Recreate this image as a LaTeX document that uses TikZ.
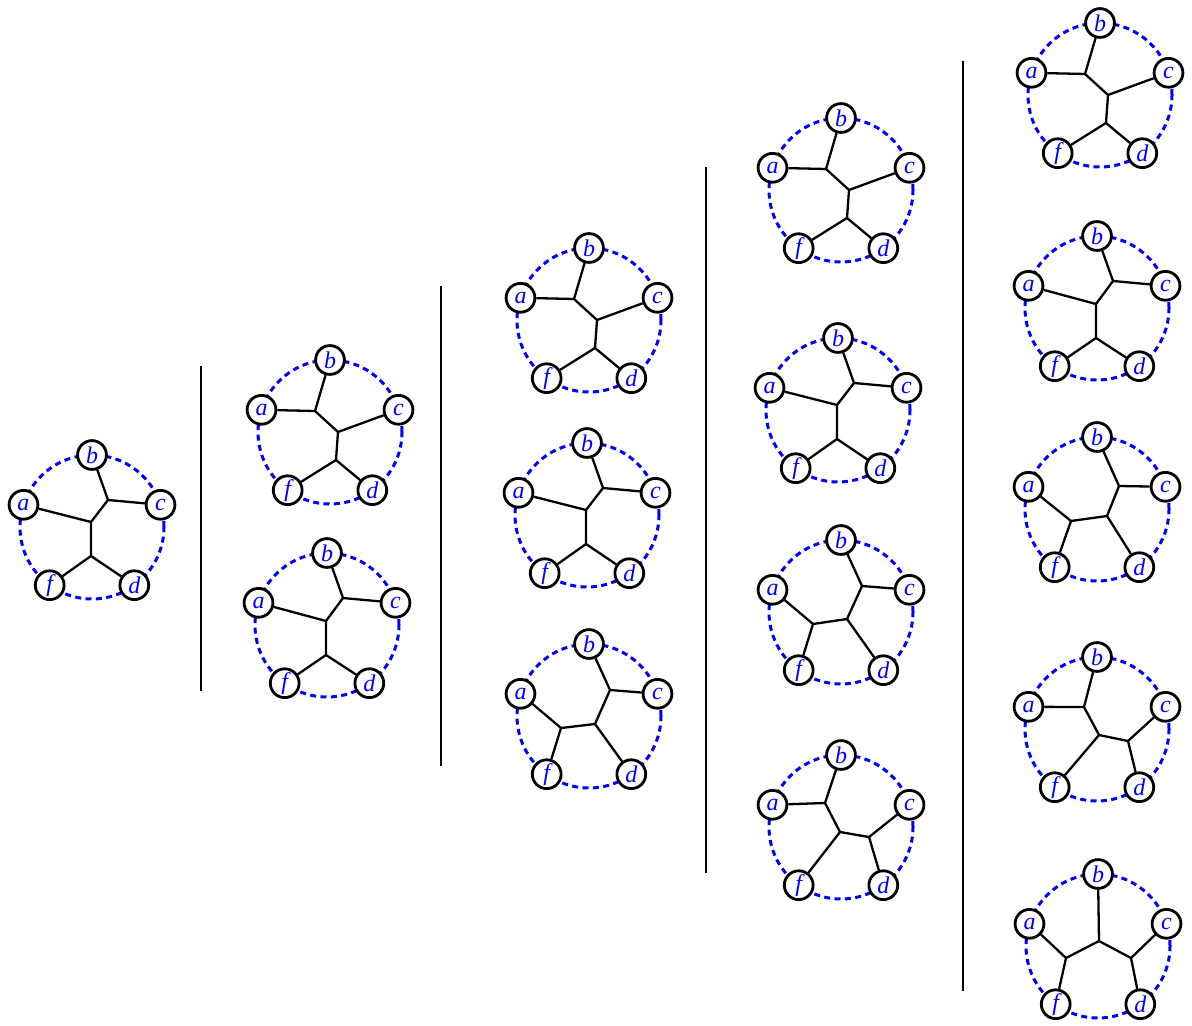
\documentclass[tikz,border=0pt]{standalone}
\usepackage{fontspec}
\setmainfont{Liberation Serif}
\usetikzlibrary{calc}

% one pixel-like unit, y growing downwards
\tikzset{
  x=0.5pt, y=-0.5pt,
  leaf/.style={circle, draw=black, fill=white, line width=1.4pt,
    minimum size=14.4pt, inner sep=0pt, text=blue,
    font=\fontsize{12}{14}\selectfont\itshape},
  ring/.style={draw=blue, line width=1.5pt, dash pattern=on 3pt off 2.2pt},
  edge/.style={draw=black, line width=1.15pt},
  divider/.style={draw=black, line width=1.25pt}
}

% dashed ring with the five leaves a, b, c, d, f
\newcommand{\leafring}[3]{%
  \begin{scope}[shift={(#2,#3)}]
    \draw[ring] (0,0) circle[radius=36pt];
    \node[leaf] (#1b) at (0,-72) {b};
    \node[leaf] (#1a) at (-68.5,-22.2) {a};
    \node[leaf] (#1c) at (68.5,-22.2) {c};
    \node[leaf] (#1f) at (-42.3,58.2) {f};
    \node[leaf] (#1d) at (42.3,58.2) {d};
  \end{scope}}

% the three inner vertices u, v, w of a tree
\newcommand{\junctions}[6]{%
  \begin{scope}[shift={(#2,#3)}]
    \coordinate (#1u) at (#4);
    \coordinate (#1v) at (#5);
    \coordinate (#1w) at (#6);
  \end{scope}}

% ((b,c),a,(f,d))
\newcommand{\treeBCA}[1]{\draw[edge] (#1b) -- (#1u) -- (#1c) (#1u) -- (#1v) -- (#1a)
  (#1v) -- (#1w) -- (#1f) (#1w) -- (#1d);}
% ((a,b),c,(f,d))
\newcommand{\treeABC}[1]{\draw[edge] (#1a) -- (#1u) -- (#1b) (#1u) -- (#1v) -- (#1c)
  (#1v) -- (#1w) -- (#1f) (#1w) -- (#1d);}
% ((b,c),d,(a,f))
\newcommand{\treeBCD}[1]{\draw[edge] (#1b) -- (#1u) -- (#1c) (#1u) -- (#1v) -- (#1d)
  (#1v) -- (#1w) -- (#1a) (#1w) -- (#1f);}
% ((a,b),f,(c,d))
\newcommand{\treeABF}[1]{\draw[edge] (#1a) -- (#1u) -- (#1b) (#1u) -- (#1v) -- (#1f)
  (#1v) -- (#1w) -- (#1c) (#1w) -- (#1d);}
% ((a,f),b,(c,d))
\newcommand{\treeAFB}[1]{\draw[edge] (#1a) -- (#1u) -- (#1f) (#1u) -- (#1v) -- (#1b)
  (#1v) -- (#1w) -- (#1c) (#1w) -- (#1d);}

\begin{document}
\begin{tikzpicture}
\useasboundingbox (0,0) rectangle (1192,1026);

% column 1
\leafring{p}{92}{527}
\junctions{p}{92}{527}{16,-27}{-1,-5}{-1,29}
\treeBCA{p}

% column 2
\leafring{q}{330}{432}
\junctions{q}{330}{432}{-15,-21}{8,0}{6,28}
\treeABC{q}
\leafring{r}{327}{625}
\junctions{r}{327}{625}{16,-27}{-1,-4}{-1,30}
\treeBCA{r}

% column 3
\leafring{s}{589}{320}
\junctions{s}{589}{320}{-15,-21}{8,0}{6,28}
\treeABC{s}
\leafring{t}{587}{515}
\junctions{t}{587}{515}{16,-27}{-1,-5}{-1,29}
\treeBCA{t}
\leafring{g}{589}{716}
\junctions{g}{589}{716}{21,-26}{6,8}{-28,12}
\treeBCD{g}

% column 4
\leafring{h}{841}{190}
\junctions{h}{841}{190}{-15,-21}{8,0}{6,28}
\treeABC{h}
\leafring{i}{838}{410}
\junctions{i}{838}{410}{16,-27}{-1,-5}{-1,29}
\treeBCA{i}
\leafring{j}{841}{612}
\junctions{j}{841}{612}{21,-26}{6,7}{-28,12}
\treeBCD{j}
\leafring{k}{841}{827}
\junctions{k}{841}{827}{-16,-24}{-1,5}{28,10}
\treeABF{k}

% column 5
\leafring{l}{1100}{95}
\junctions{l}{1100}{95}{-15,-21}{8,0}{6,28}
\treeABC{l}
\leafring{m}{1097}{308}
\junctions{m}{1097}{308}{16,-27}{-1,-4}{-1,30}
\treeBCA{m}
\leafring{n}{1097}{509}
\junctions{n}{1097}{509}{22,-23}{10,7}{-26,12}
\treeBCD{n}
\leafring{o}{1097}{729}
\junctions{o}{1097}{729}{-13,-22}{2,6}{31,12}
\treeABF{o}
\leafring{z}{1098}{946}
\junctions{z}{1098}{946}{-32,12}{1,-5}{33,12}
\treeAFB{z}

% vertical dividers between the columns
\coordinate (d1t) at (201,366); \coordinate (d1b) at (201,691);
\coordinate (d2t) at (441,286); \coordinate (d2b) at (441,766);
\coordinate (d3t) at (706,167); \coordinate (d3b) at (706,873);
\coordinate (d4t) at (963,61);  \coordinate (d4b) at (963,991);
\draw[divider] (d1t) -- (d1b);
\draw[divider] (d2t) -- (d2b);
\draw[divider] (d3t) -- (d3b);
\draw[divider] (d4t) -- (d4b);
\end{tikzpicture}
\end{document}
